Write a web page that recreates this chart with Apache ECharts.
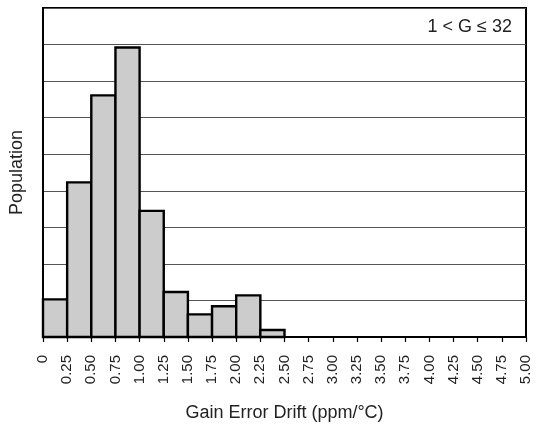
<!DOCTYPE html>
<html>
<head>
<meta charset="utf-8">
<script src="https://cdn.jsdelivr.net/npm/echarts@6/dist/echarts.min.js"></script>
<style>html,body{margin:0;padding:0;background:#fff;}#c{width:536px;height:435px;}</style>
</head>
<body>
<div id="c"></div>
<script>
// Bin edges (ppm/°C) and population heights (grid units)
var binStart = [0, 0.25, 0.50, 0.75, 1.00, 1.25, 1.50, 1.75, 2.00, 2.25];
var binEnd   = [0.25, 0.50, 0.75, 1.00, 1.25, 1.50, 1.75, 2.00, 2.25, 2.50];
var population = [1.03, 4.23, 6.61, 7.92, 3.45, 1.23, 0.62, 0.84, 1.14, 0.19];
var tickLabels = ['0','0.25','0.50','0.75','1.00','1.25','1.50','1.75','2.00','2.25','2.50','2.75','3.00','3.25','3.50','3.75','4.00','4.25','4.50','4.75','5.00'];
var annotation = '1 < G \u2264 32';
var xName = 'Gain Error Drift (ppm/\u00B0C)';
var yName = 'Population';

var data = binStart.map(function (s, i) { return [s, binEnd[i], population[i]]; });
var font = 'Liberation Sans, Arial, sans-serif';

var chart = echarts.init(document.getElementById('c'), null, {renderer: 'canvas'});
chart.setOption({
  animation: false,
  backgroundColor: '#fff',
  title: {
    text: annotation,
    right: 19, top: 13,
    textStyle: {fontFamily: font, fontSize: 18, fontWeight: 'normal', color: '#222'}
  },
  grid: {left: 41, right: 10, top: 8, bottom: 98, show: true, borderColor: '#000', borderWidth: 2, backgroundColor: 'transparent'},
  xAxis: {
    type: 'value', min: 0, max: 5, interval: 0.25,
    name: xName, nameLocation: 'middle', nameGap: 67,
    nameTextStyle: {fontFamily: font, fontSize: 18, color: '#222'},
    axisLine: {show: true, lineStyle: {color: '#000', width: 2}},
    axisTick: {show: true, length: 5, lineStyle: {color: '#000', width: 1.2}},
    splitLine: {show: false},
    axisLabel: {
      rotate: 90, margin: 18, fontFamily: font, fontSize: 15, color: '#222',
      formatter: function (v) { return tickLabels[Math.round(v / 0.25)]; }
    }
  },
  yAxis: {
    type: 'value', min: 0, max: 9, interval: 1,
    name: yName, nameLocation: 'middle', nameGap: 17,
    nameTextStyle: {fontFamily: font, fontSize: 18, color: '#222'},
    axisLine: {show: true, lineStyle: {color: '#000', width: 2}},
    axisTick: {show: false},
    axisLabel: {show: false},
    splitLine: {show: true, lineStyle: {color: '#555', width: 1}}
  },
  series: [{
    type: 'custom',
    data: data,
    encode: {x: [0, 1], y: 2},
    renderItem: function (params, api) {
      var p0 = api.coord([api.value(0), api.value(2)]);
      var p1 = api.coord([api.value(1), 0]);
      return {
        type: 'rect',
        shape: {x: p0[0], y: p0[1], width: p1[0] - p0[0], height: p1[1] - p0[1]},
        style: {fill: '#cccccc', stroke: '#000', lineWidth: 2.4}
      };
    },
    z: 3
  }]
});
</script>
</body>
</html>
